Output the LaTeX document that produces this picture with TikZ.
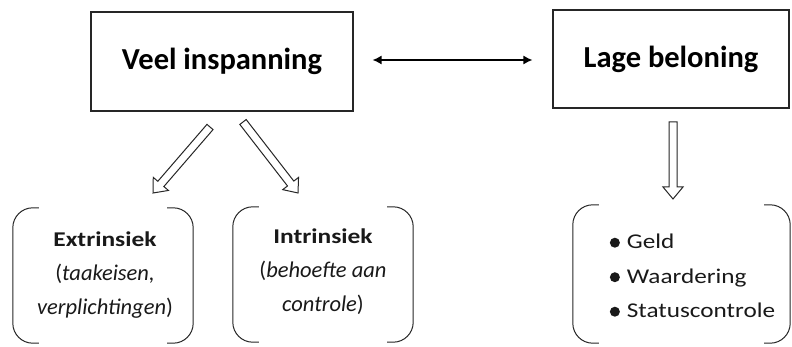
\documentclass[tikz,border=0pt]{standalone}
\usepackage{fontspec}
\setmainfont{Carlito}
\newfontfamily\widebold{Carlito}[UprightFont=* Bold, FakeStretch=1.21]
\newfontfamily\widereg{Carlito}[FakeStretch=1.2]
\usetikzlibrary{calc,arrows.meta}

% hollow block arrow between two named points: #1 tail, #2 tip
\newcommand\blockarrow[2]{%
  \coordinate (#1hb) at ($(#2)!12pt!(#1)$);
  \draw[hollow]
    ($(#1)!4pt!90:(#2)$) -- ($(#1hb)!4pt!90:(#2)$) -- ($(#1hb)!10pt!90:(#2)$)
    -- (#2)
    -- ($(#1hb)!10pt!-90:(#2)$) -- ($(#1hb)!4pt!-90:(#2)$) -- ($(#1)!4pt!-90:(#2)$)
    -- cycle;}

% round list dot
\newcommand\listdot{\tikz[baseline=-6pt]\fill (0,0) circle (5pt);\hspace{7pt}}

\begin{document}
\begin{tikzpicture}[x=1pt,y=-1pt,
  titlebox/.style={draw=black!85, line width=1.15pt, fill=white,
    font=\fontsize{30.5}{36}\selectfont\bfseries, inner sep=0pt},
  frame/.style={inner sep=0pt},
  bracket/.style={draw=black!85, line width=1pt, rounded corners=20pt},
  body/.style={font=\fontsize{22.5}{34}\selectfont, align=center, inner sep=0pt, text=black!90},
  listtext/.style={font=\fontsize{21}{34.5}\selectfont\widereg, align=left, inner sep=0pt, text=black!90},
  hollow/.style={draw=black!85, line width=1pt, fill=white, line join=miter},
  link/.style={{Latex[length=9pt,width=9pt]}-{Latex[length=9pt,width=9pt]}, line width=1.3pt}
]
\useasboundingbox (0,0) rectangle (792,347);

% top boxes
\node[titlebox, minimum width=262pt, minimum height=99pt] (veel) at (222,61.5) {Veel inspanning};
\node[titlebox, minimum width=236pt, minimum height=98pt] (lage) at (671,59) {Lage beloning};

% two-way link between the top boxes
\draw[link, shorten <=19pt, shorten >=20pt] (veel.east |- 0,60) -- (lage.west |- 0,60);

% lower frames
\node[frame, minimum width=180pt, minimum height=135pt] (ext) at (103,275.5) {};
\node[frame, minimum width=180pt, minimum height=135pt] (intr) at (323,274.5) {};
\node[frame, minimum width=217pt, minimum height=138pt] (list) at (681.5,274) {};

\foreach \f in {ext,intr,list}{
  \draw[bracket] ($(\f.north west)+(26,0)$) -- (\f.north west) -- (\f.south west) -- ($(\f.south west)+(26,0)$);
  \draw[bracket] ($(\f.north east)+(-26,0)$) -- (\f.north east) -- (\f.south east) -- ($(\f.south east)+(-26,0)$);
}

\node[body] (extT) at ($(ext.center)+(2,0)$) {{\widebold\fontsize{21}{34}\selectfont Extrinsiek}\\(\textit{taakeisen,}\\\textit{verplichtingen})};
\node[body] (intrT) at ($(intr.center)+(0,-3)$) {{\widebold\fontsize{21}{34}\selectfont Intrinsiek}\\(\textit{behoefte aan}\\\textit{controle})};
\node[listtext] (listT) at ($(list.center)+(11,2)$) {\listdot Geld\\\listdot Waardering\\\listdot Statuscontrole};

% hollow arrows
\coordinate (la) at (210,127);  \coordinate (lt) at (153,193);
\coordinate (ra) at (243,122);  \coordinate (rt) at (298,193);
\coordinate (da) at (673,122);  \coordinate (dt) at (673,199);
\blockarrow{la}{lt}
\blockarrow{ra}{rt}
\blockarrow{da}{dt}
\end{tikzpicture}
\end{document}
